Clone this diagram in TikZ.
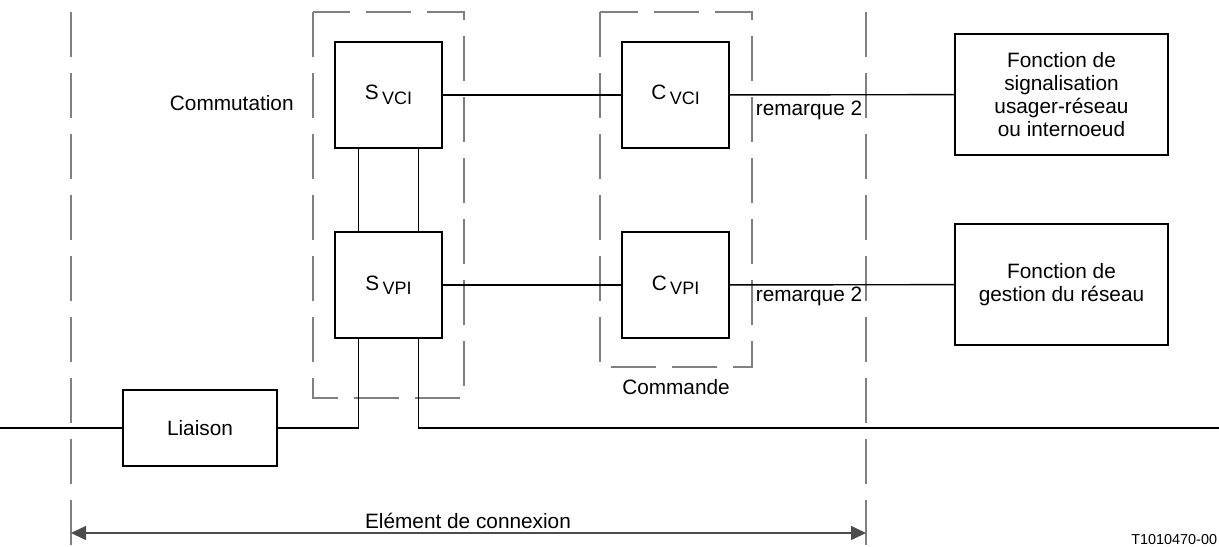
\documentclass[tikz,border=0pt]{standalone}
\usepackage{fontspec}
\setmainfont{Liberation Sans}
\usetikzlibrary{arrows.meta}
\newcommand{\subidx}[1]{\,\raisebox{-0.4ex}{\fontsize{9}{10}\selectfont #1}}
\begin{document}
\begin{tikzpicture}[x=0.5pt,y=-0.5pt,font=\fontsize{10.4}{11.4}\selectfont,line width=0.7pt]
\tikzset{
  blk/.style={draw, inner sep=0pt, align=center, minimum width=53.5pt, minimum height=53pt},
  fbox/.style={draw, inner sep=0pt, align=center, minimum width=106.5pt, minimum height=60.5pt},
  limit/.style={draw=gray, line width=0.9pt, dash pattern=on 22.5pt off 8pt},
}
\useasboundingbox (0,0) rectangle (1219,546);

% blocs
\node[blk] (svci) at (388.5,95) {S\subidx{VCI}};
\node[blk] (svpi) at (388.5,285) {S\subidx{VPI}};
\node[blk] (cvci) at (675.5,95) {C\subidx{VCI}};
\node[blk] (cvpi) at (675.5,285) {C\subidx{VPI}};
\node[fbox] (fsig) at (1061.5,94.5) {Fonction de\\signalisation\\usager-r\'eseau\\ou internoeud};
\node[fbox] (fges) at (1061.5,284.5) {Fonction de\\gestion du r\'eseau};
\node[draw, minimum width=77pt, minimum height=38pt] (liaison) at (200,428) {Liaison};

% limites
\draw[limit] (313,12) rectangle (464,398);
\draw[limit] (600,12) rectangle (752,367);
\draw[limit] (71,12) coordinate (gtop) -- (71,546) coordinate (gbot);
\draw[limit] (866,12) coordinate (dtop) -- (866,546) coordinate (dbot);

% liaisons
\draw (svci) -- (cvci);
\draw (cvci) -- (fsig);
\draw (svpi) -- (cvpi);
\draw (cvpi) -- (fges);
\draw ([xshift=-15pt]svci.south) -- ([xshift=-15pt]svpi.north);
\draw ([xshift=15pt]svci.south) -- ([xshift=15pt]svpi.north);
\coordinate (lin) at (0,428);
\coordinate (lout) at (1219,428);
\draw (lin) -- (liaison);
\draw ([xshift=-15pt]svpi.south) |- (liaison.east);
\draw ([xshift=15pt]svpi.south) |- (lout);

% textes
\node[anchor=east] (comm) at (301,103) {Commutation};
\node (cmde) at (676,387) {Commande};
\node (rq1) at (809,110) {remarque 2};
\node (rq2) at (809,296) {remarque 2};
\draw[{Triangle[length=7.5pt,width=7pt]}-{Triangle[length=7.5pt,width=7pt]}, draw=gray!60!black] (71,533) -- (866,533);
\node (elem) at (468,521) {El\'ement de connexion};
\node[anchor=base west, font=\fontsize{7.2}{8}\selectfont] (ref) at (1124,544) {T1010470-00};
\end{tikzpicture}
\end{document}
